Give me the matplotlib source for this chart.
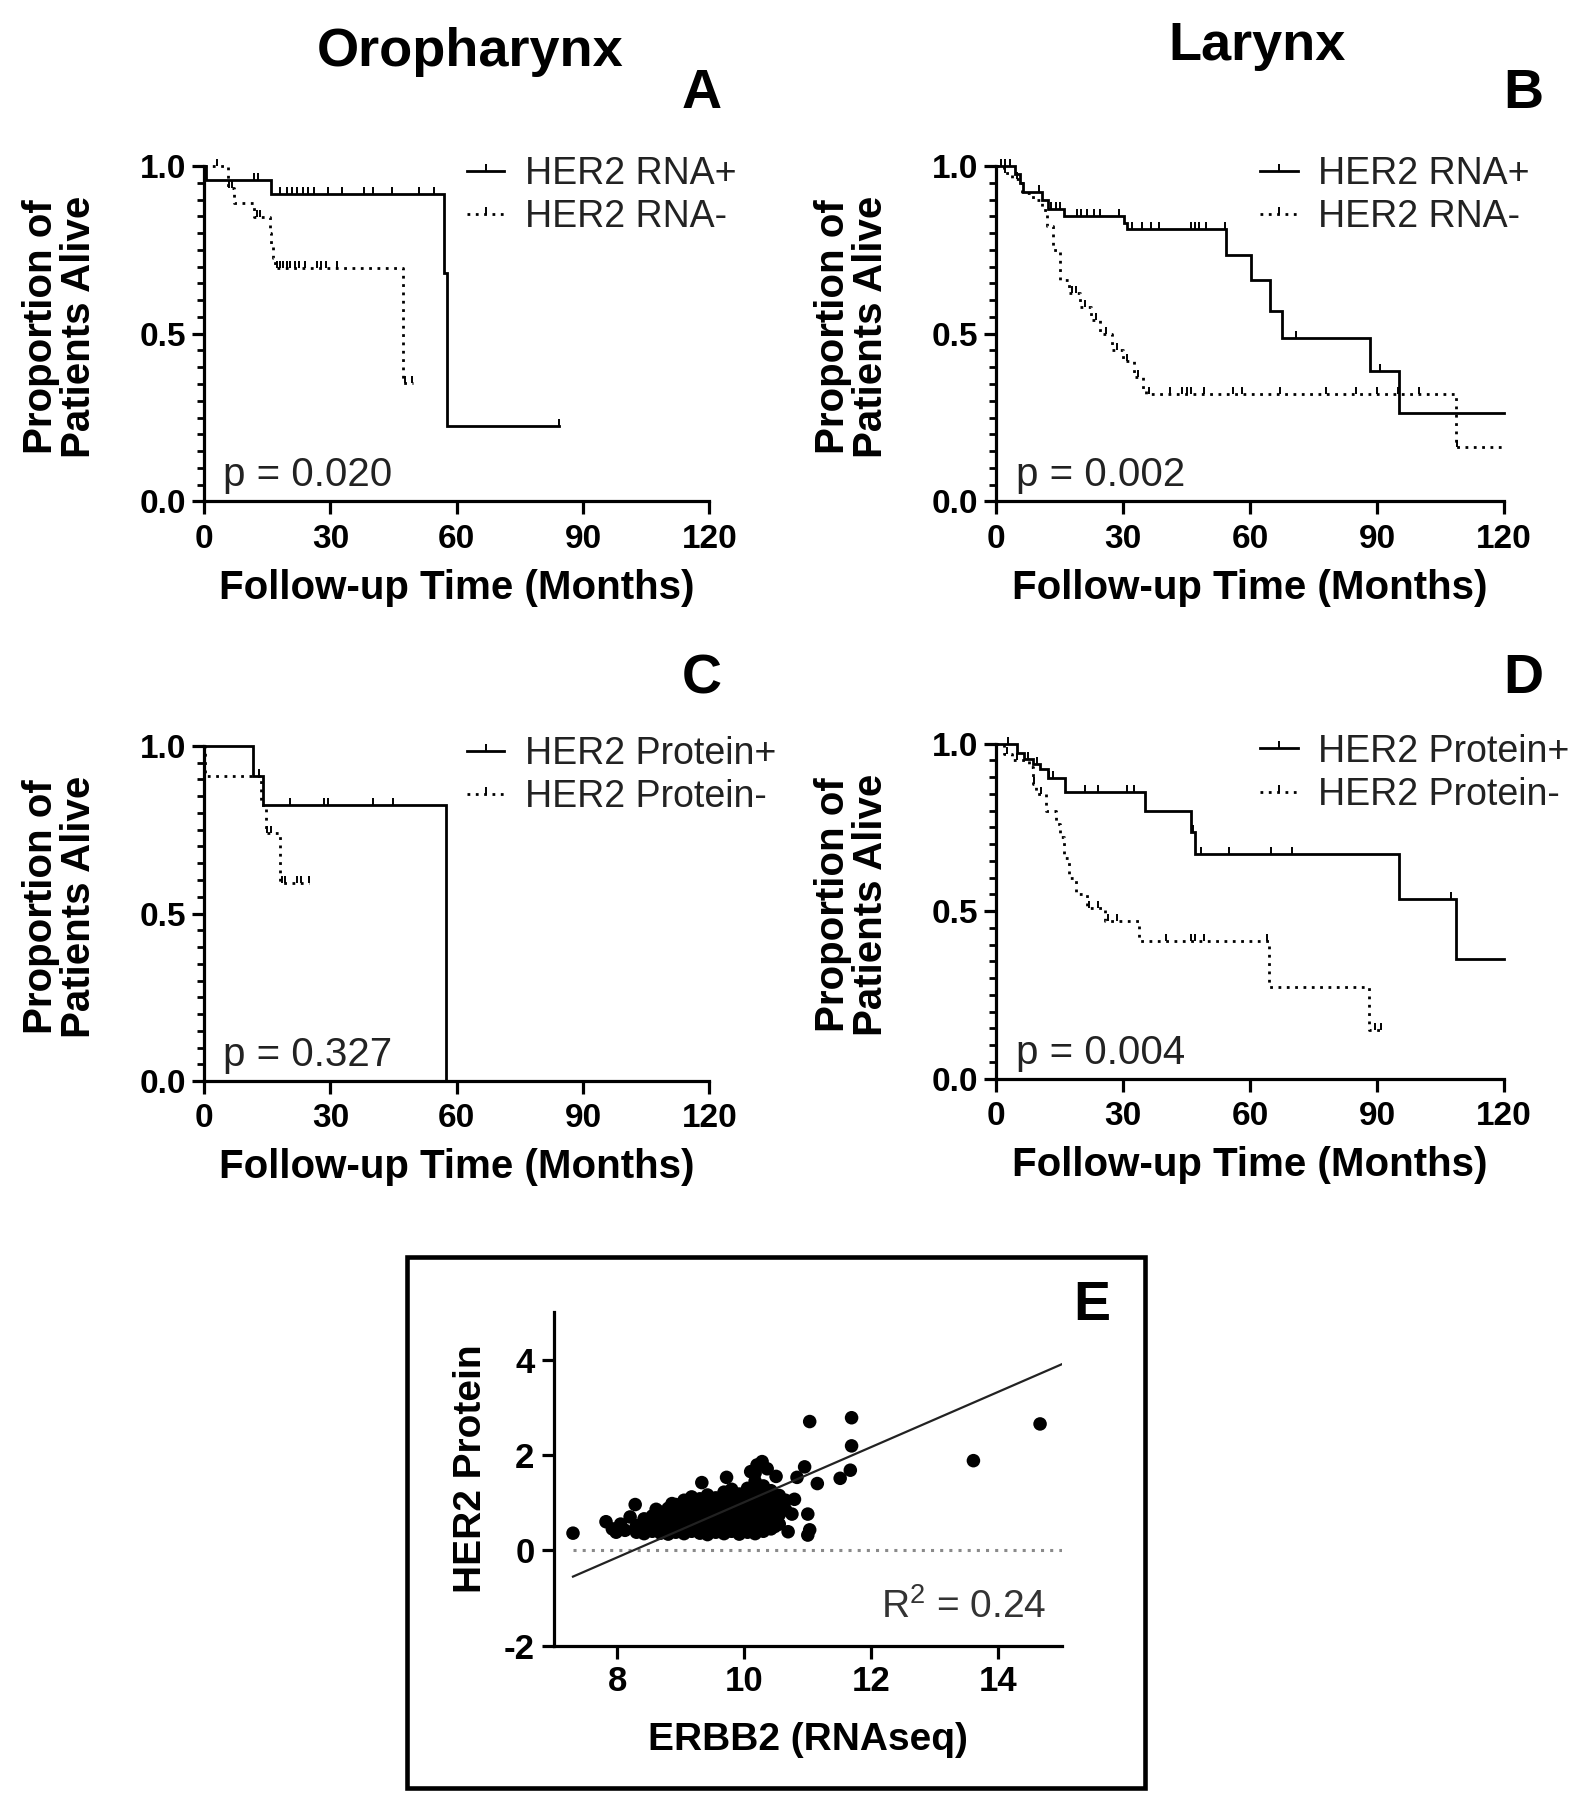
import numpy as np
import matplotlib
matplotlib.use("Agg")
import matplotlib.pyplot as plt
from matplotlib.lines import Line2D
from matplotlib.patches import Rectangle
from matplotlib.ticker import MultipleLocator, FormatStrFormatter
from matplotlib.markers import TICKUP

plt.rcParams["font.family"] = ["Liberation Sans", "DejaVu Sans"]
plt.rcParams["axes.unicode_minus"] = False
plt.rcParams["mathtext.default"] = "regular"

# ---- Kaplan-Meier data (step start times, survival after each step, end time, censor times)
a_pos_t = [0, 0.5, 15.9, 57.0, 57.6]
a_pos_s = [1.0, 0.958, 0.917, 0.68, 0.224]
a_pos_end = 84.2
a_pos_cens = [11.9, 12.8, 18.1, 19.6, 20.9, 22.1, 23.4, 24.7, 26.0, 29.4, 32.8,
              37.9, 40.0, 44.7, 51.1, 54.5, 84.2]
a_neg_t = [0, 5.7, 7.0, 11.9, 15.6, 16.0, 16.4, 16.8, 47.2]
a_neg_s = [1.0, 0.935, 0.89, 0.848, 0.80, 0.76, 0.725, 0.697, 0.353]
a_neg_end = 49.5
a_neg_cens = [3.0, 6.0, 6.5, 12.5, 13.2, 17.2, 18.0, 18.8, 19.6, 20.4, 21.5, 22.6,
              24.0, 26.8, 27.8, 29.0, 31.5, 47.8, 49.3]

b_pos_t = [0, 4.3, 5.5, 6.2, 10.8, 12.1, 15.9, 30.1, 30.8, 54.4, 60.2, 64.7, 67.6, 88.4, 95.3]
b_pos_s = [1.0, 0.975, 0.95, 0.923, 0.90, 0.873, 0.851, 0.83, 0.812, 0.736, 0.66, 0.567,
           0.486, 0.389, 0.263]
b_pos_end = 120
b_pos_cens = [1.0, 2.0, 3.2, 10.2, 13.0, 14.0, 15.0, 19.0, 20.0, 21.5, 23.0, 24.5, 29.0,
              32.0, 34.5, 36.5, 38.5, 46.0, 47.0, 48.0, 49.5, 54.0, 70.8, 90.8]
b_neg_t = [0, 1.8, 3.6, 6.1, 8.7, 10.8, 12.0, 13.4, 15.0, 17.2, 19.7, 22.3, 24.4, 27.4,
           30.0, 32.5, 34.6, 35.5, 108.7]
b_neg_s = [1.0, 0.98, 0.96, 0.92, 0.90, 0.87, 0.82, 0.75, 0.66, 0.62, 0.58, 0.54, 0.50,
           0.45, 0.42, 0.37, 0.335, 0.319, 0.161]
b_neg_end = 120
b_neg_cens = [2.0, 5.0, 17.8, 18.8, 21.0, 23.5, 26.0, 28.5, 31.0, 33.5, 36.2, 41.0, 44.0,
              45.0, 46.0, 49.0, 56.0, 58.0, 67.0, 78.0, 85.0, 90.0, 95.0, 100.0, 109.0]

c_pos_t = [0, 11.5, 14.0, 57.4]
c_pos_s = [1.0, 0.91, 0.824, 0.0]
c_pos_end = 57.4
c_pos_cens = [13.0, 20.4, 28.5, 29.4, 40.0, 44.8]
c_neg_t = [0, 0.3, 13.6, 14.7, 18.1]
c_neg_s = [1.0, 0.91, 0.824, 0.741, 0.592]
c_neg_end = 25.0
c_neg_cens = [15.0, 15.8, 18.5, 19.3, 22.0, 23.0, 24.8]

d_pos_t = [0, 4.9, 6.6, 8.7, 10.4, 12.1, 16.3, 35.1, 46.0, 47.0, 95.1, 108.7]
d_pos_s = [1.0, 0.973, 0.955, 0.938, 0.924, 0.897, 0.857, 0.80, 0.735, 0.672, 0.536, 0.357]
d_pos_end = 120
d_pos_cens = [2.7, 7.5, 9.5, 12.5, 13.5, 21.0, 24.0, 31.0, 32.5, 46.5, 48.5, 55.0, 65.0,
              70.0, 107.5]
d_neg_t = [0, 1.9, 3.6, 7.8, 8.7, 9.3, 11.7, 14.2, 15.0, 16.0, 17.2, 18.9, 21.4, 25.7,
           33.8, 64.4, 88.2]
d_neg_s = [1.0, 0.97, 0.95, 0.93, 0.88, 0.85, 0.80, 0.76, 0.72, 0.66, 0.60, 0.55, 0.51,
           0.47, 0.41, 0.273, 0.144]
d_neg_end = 91.2
d_neg_cens = [2.5, 5.0, 9.0, 10.5, 22.0, 24.0, 26.5, 28.5, 40.0, 46.0, 47.0, 49.0, 64.0,
              89.5, 91.0]

# ---- Scatter data (panel E)
erbb2 = [
    7.30, 7.82, 7.92, 7.98, 8.05, 8.12, 8.28, 8.20,
    8.30, 8.30, 8.42, 8.42, 8.42, 8.55, 8.55, 8.55,
    8.68, 8.68, 8.68, 8.68, 8.80, 8.80, 8.80, 8.80, 8.80,
    8.92, 8.92, 8.92, 8.92, 8.92, 9.05, 9.05, 9.05, 9.05, 9.05, 9.05,
    9.17, 9.17, 9.17, 9.17, 9.17, 9.17, 9.30, 9.30, 9.30, 9.30, 9.30, 9.30,
    9.42, 9.42, 9.42, 9.42, 9.42, 9.42, 9.42, 9.55, 9.55, 9.55, 9.55, 9.55, 9.55,
    9.68, 9.68, 9.68, 9.68, 9.68, 9.68, 9.68, 9.80, 9.80, 9.80, 9.80, 9.80, 9.80, 9.80,
    9.92, 9.92, 9.92, 9.92, 9.92, 9.92, 9.92, 10.05, 10.05, 10.05, 10.05, 10.05, 10.05, 10.05,
    10.17, 10.17, 10.17, 10.17, 10.17, 10.17, 10.17, 10.17,
    10.30, 10.30, 10.30, 10.30, 10.30, 10.30, 10.42, 10.42, 10.42, 10.42, 10.42,
    10.55, 10.55, 10.55, 10.55, 10.65, 10.65,
    8.36, 8.48, 8.61, 8.74, 8.86, 8.98, 9.11, 9.24, 9.36, 9.49, 9.61, 9.74, 9.86, 9.98,
    10.11, 10.24, 10.36, 10.48, 8.61, 8.86, 9.11, 9.36, 9.61, 9.86, 10.11,
    9.33, 9.72, 10.20, 10.28, 10.36, 10.83, 10.79, 10.75, 10.69, 10.95, 11.00, 11.03,
    11.00, 11.15, 11.51, 11.67, 11.69, 11.69, 11.03, 13.61, 14.66, 10.50, 10.10,
]
her2 = [
    0.36, 0.60, 0.45, 0.38, 0.55, 0.42, 0.96, 0.70,
    0.38, 0.52, 0.35, 0.50, 0.66, 0.40, 0.55, 0.72,
    0.36, 0.48, 0.62, 0.80, 0.34, 0.47, 0.60, 0.74, 0.88,
    0.38, 0.52, 0.66, 0.82, 0.96, 0.35, 0.48, 0.62, 0.78, 0.92, 1.05,
    0.40, 0.55, 0.70, 0.85, 1.00, 1.12, 0.36, 0.50, 0.64, 0.79, 0.94, 1.08,
    0.33, 0.46, 0.60, 0.75, 0.90, 1.04, 1.16, 0.38, 0.52, 0.67, 0.82, 0.97, 1.10,
    0.35, 0.49, 0.63, 0.78, 0.93, 1.08, 1.22, 0.40, 0.55, 0.70, 0.86, 1.00, 1.15, 1.28,
    0.34, 0.47, 0.61, 0.76, 0.90, 1.05, 1.18, 0.38, 0.52, 0.66, 0.81, 0.96, 1.12, 1.30,
    0.35, 0.50, 0.65, 0.80, 0.98, 1.20, 1.45, 1.62,
    0.40, 0.55, 0.72, 0.90, 1.10, 1.35, 0.45, 0.62, 0.80, 1.00, 1.25,
    0.55, 0.75, 0.95, 1.15, 0.85, 1.05,
    0.44, 0.43, 0.42, 0.41, 0.42, 0.44, 0.42, 0.43, 0.41, 0.44, 0.42, 0.41, 0.43, 0.42,
    0.44, 0.42, 0.47, 0.50, 0.86, 0.98, 0.99, 1.02, 1.03, 1.07, 1.05,
    1.42, 1.53, 1.79, 1.86, 1.71, 1.53, 1.07, 0.76, 0.39, 1.75, 0.76, 0.43,
    0.32, 1.40, 1.51, 1.68, 2.19, 2.78, 2.70, 1.88, 2.65, 1.55, 1.65,
]
fit_slope = 0.578
fit_intercept = -4.77
fit_range = [7.3, 15.0]
r_squared = 0.24

TXT = "#222222"
DOTS = (0, (1.0, 2.0))


def km(ax, t, s, end, cens, style):
    t = np.asarray(t, dtype=float)
    s = np.asarray(s, dtype=float)
    ls = "-" if style == "solid" else DOTS
    ax.step(np.append(t, end), np.append(s, s[-1]), where="post", color="black",
            lw=2.0, ls=ls, clip_on=False, solid_joinstyle="miter")
    c = np.asarray(cens, dtype=float)
    cy = s[np.searchsorted(t, c, side="right") - 1]
    ax.plot(c, cy, ls="none", marker=TICKUP, ms=5, mew=1.4, color="black", clip_on=False)


def style_km(ax):
    for side in ("top", "right"):
        ax.spines[side].set_visible(False)
    for side in ("left", "bottom"):
        ax.spines[side].set_linewidth(2.3)
    ax.set_xlim(0, 120)
    ax.set_ylim(0, 1.0)
    ax.set_xticks([0, 30, 60, 90, 120])
    ax.set_yticks([0, 0.5, 1.0])
    ax.yaxis.set_minor_locator(MultipleLocator(0.05))
    ax.yaxis.set_major_formatter(FormatStrFormatter("%.1f"))
    ax.tick_params(which="major", length=9, width=2.3, labelsize=24, pad=4)
    ax.tick_params(axis="x", which="major", pad=7)
    ax.tick_params(which="minor", length=5, width=2.0)
    for lab in ax.get_xticklabels() + ax.get_yticklabels():
        lab.set_fontweight("bold")
    ax.text(0.5, -0.257, "Follow-up Time (Months)", transform=ax.transAxes,
            ha="center", va="center", fontsize=29, fontweight="bold")
    ax.text(-0.285, 0.52, "Proportion of\nPatients Alive", transform=ax.transAxes,
            ha="center", va="center", rotation=90, fontsize=29, fontweight="bold",
            multialignment="center", linespacing=1.0)


def legend(ax, labels):
    h = [Line2D([], [], color="black", lw=2.0, ls="-", marker=TICKUP, ms=5, mew=1.4),
         Line2D([], [], color="black", lw=2.0, ls=DOTS, marker=TICKUP, ms=5, mew=1.4)]
    leg = ax.legend(h, labels, loc="upper left", bbox_to_anchor=(0.52, 1.03),
                    frameon=False, fontsize=27, handlelength=1.0, handletextpad=0.55,
                    labelspacing=0.2, borderpad=0, borderaxespad=0, numpoints=1)
    for t in leg.get_texts():
        t.set_color(TXT)


fig = plt.figure(figsize=(15.85, 18), dpi=100)

axA = fig.add_axes([0.1288, 0.7214, 0.3187, 0.1864])
axB = fig.add_axes([0.6286, 0.7214, 0.3202, 0.1864])
axC = fig.add_axes([0.1288, 0.3994, 0.3187, 0.1862])
axD = fig.add_axes([0.6286, 0.4007, 0.3202, 0.1862])
axE = fig.add_axes([0.3495, 0.0857, 0.3203, 0.1855])

panels = [
    (axA, (a_pos_t, a_pos_s, a_pos_end, a_pos_cens), (a_neg_t, a_neg_s, a_neg_end, a_neg_cens),
     ["HER2 RNA+", "HER2 RNA-"], "p = 0.020"),
    (axB, (b_pos_t, b_pos_s, b_pos_end, b_pos_cens), (b_neg_t, b_neg_s, b_neg_end, b_neg_cens),
     ["HER2 RNA+", "HER2 RNA-"], "p = 0.002"),
    (axC, (c_pos_t, c_pos_s, c_pos_end, c_pos_cens), (c_neg_t, c_neg_s, c_neg_end, c_neg_cens),
     ["HER2 Protein+", "HER2 Protein-"], "p = 0.327"),
    (axD, (d_pos_t, d_pos_s, d_pos_end, d_pos_cens), (d_neg_t, d_neg_s, d_neg_end, d_neg_cens),
     ["HER2 Protein+", "HER2 Protein-"], "p = 0.004"),
]
for ax, pos, neg, labels, ptxt in panels:
    km(ax, *neg, "dotted")
    km(ax, *pos, "solid")
    style_km(ax)
    legend(ax, labels)
    ax.text(0.038, 0.045, ptxt, transform=ax.transAxes, ha="left", va="baseline",
            fontsize=29, color=TXT)

# ---- panel E
axE.scatter(erbb2, her2, s=95, color="black", edgecolors="none", zorder=3, clip_on=False)
fx = np.array(fit_range)
axE.plot(fx, fit_slope * fx + fit_intercept, color=TXT, lw=1.6, zorder=4)
axE.plot(fx, [0, 0], color="#8a8a8a", lw=2.2, ls=DOTS, zorder=2)
axE.set_xlim(7, 15)
axE.set_ylim(-2, 5)
axE.set_xticks([8, 10, 12, 14])
axE.set_yticks([-2, 0, 2, 4])
for side in ("top", "right"):
    axE.spines[side].set_visible(False)
for side in ("left", "bottom"):
    axE.spines[side].set_linewidth(2.3)
axE.tick_params(length=9, width=2.3, labelsize=25, pad=5)
for lab in axE.get_xticklabels() + axE.get_yticklabels():
    lab.set_fontweight("bold")
axE.text(0.5, -0.282, "ERBB2 (RNAseq)", transform=axE.transAxes, ha="center",
         va="center", fontsize=28, fontweight="bold")
axE.text(-0.164, 0.53, "HER2 Protein", transform=axE.transAxes, ha="center",
         va="center", rotation=90, fontsize=28, fontweight="bold")
axE.text(0.97, 0.083, f"R$^2$ = {r_squared:.2f}", transform=axE.transAxes, ha="right",
         va="baseline", fontsize=28, color="#333333")

fig.patches.append(Rectangle((0.2568, 0.0067), 0.7224 - 0.2568, 0.3017 - 0.0067,
                             transform=fig.transFigure, fill=False, lw=3.3,
                             edgecolor="black"))

# ---- titles and panel letters
fig.text(0.2969, 0.9713, "Oropharynx", ha="center", va="center", fontsize=39, fontweight="bold")
fig.text(0.7929, 0.9745, "Larynx", ha="center", va="center", fontsize=39, fontweight="bold")
for x, y, letter in [(0.443, 0.948, "A"), (0.961, 0.948, "B"), (0.443, 0.6227, "C"),
                     (0.961, 0.6227, "D"), (0.6887, 0.2744, "E")]:
    fig.text(x, y, letter, ha="center", va="center", fontsize=40, fontweight="bold")

fig.savefig("out.png", dpi=100)
plt.close(fig)
